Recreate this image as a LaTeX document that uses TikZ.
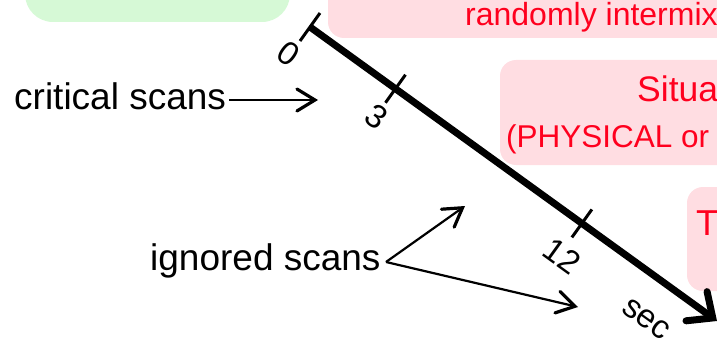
\documentclass[tikz,border=0pt]{standalone}
\usepackage{fontspec}
\setmainfont{Liberation Sans}
\usetikzlibrary{arrows.meta,calc}
\definecolor{softgreen}{RGB}{214,249,214}
\definecolor{softpink}{RGB}{255,221,226}
\definecolor{alertred}{RGB}{255,0,30}
\tikzset{
  greenbox/.style={fill=softgreen, rounded corners=28pt, draw=none},
  pinkbox/.style={fill=softpink, rounded corners=16pt, draw=none},
  redtext/.style={text=alertred, inner sep=0pt, anchor=base west},
  blacktext/.style={text=black, inner sep=0pt, anchor=base west, font=\fontsize{37}{44}\selectfont},
  ticklabel/.style={inner sep=0pt, rotate=-35.8, font=\fontsize{33}{38}\selectfont},
  axisline/.style={line width=7pt, -{Straight Barb[length=20pt,width=36pt,line cap=round]}},
  tickmark/.style={line width=3pt},
  pointer/.style={line width=2.2pt, -{Straight Barb[length=18pt,width=22pt,line width=3.2pt,line cap=round]}}
}
\begin{document}
\begin{tikzpicture}[x=1pt,y=-1pt]
\useasboundingbox (0,0) rectangle (717,342);
\clip (0,0) rectangle (717,342);
% boxes
\path[greenbox] (25,-60) rectangle (290,22);
\path[pinkbox] (328,-60) rectangle (800,38);
\path[pinkbox] (500,60) rectangle (800,165);
\path[pinkbox] (687,187) rectangle (800,291);
% red texts
\node[redtext, font=\fontsize{32}{38}\selectfont] (t1) at (465,26) {randomly intermix};
\node[redtext, font=\fontsize{35.5}{42}\selectfont] (t2) at (637,102) {Situa};
\node[redtext, font=\fontsize{31.5}{38}\selectfont] (t3) at (506,147) {(PHYSICAL or};
\node[redtext, font=\fontsize{36}{42}\selectfont] (t4) at (696,235) {T};
% axis
\coordinate (A) at (310,27);
\coordinate (B) at (717,321);
\draw[axisline] (A) -- (B);
\path (A) -- (B) coordinate[pos=0] (k0) coordinate[pos=0.21] (k3) coordinate[pos=0.668] (k12);
\foreach \k in {k0,k3,k12}{
  \draw[tickmark] ($(\k)+(10,-14)$) -- ($(\k)+(-10,14)$);
}
\node[ticklabel] (l0) at (289,54) {0};
\node[ticklabel] (l3) at (377,117) {3};
\node[ticklabel] (l12) at (562,256) {12};
\node[ticklabel] (lsec) at (646,319) {sec};
% labels and pointers
\node[blacktext] (crit) at (14,110) {critical scans};
\coordinate (critend) at (318,100);
\path (crit.east |- critend) ++(3,0) coordinate (critstart);
\draw[pointer] (critstart) -- (critend);
\node[blacktext] (ign) at (150,270) {ignored scans};
\coordinate (ignsrc) at (386,262);
\coordinate (ignA) at (465,206);
\coordinate (ignB) at (578,307);
\draw[pointer] (ignsrc) -- (ignA);
\draw[pointer] (ignsrc) -- (ignB);
\end{tikzpicture}
\end{document}
